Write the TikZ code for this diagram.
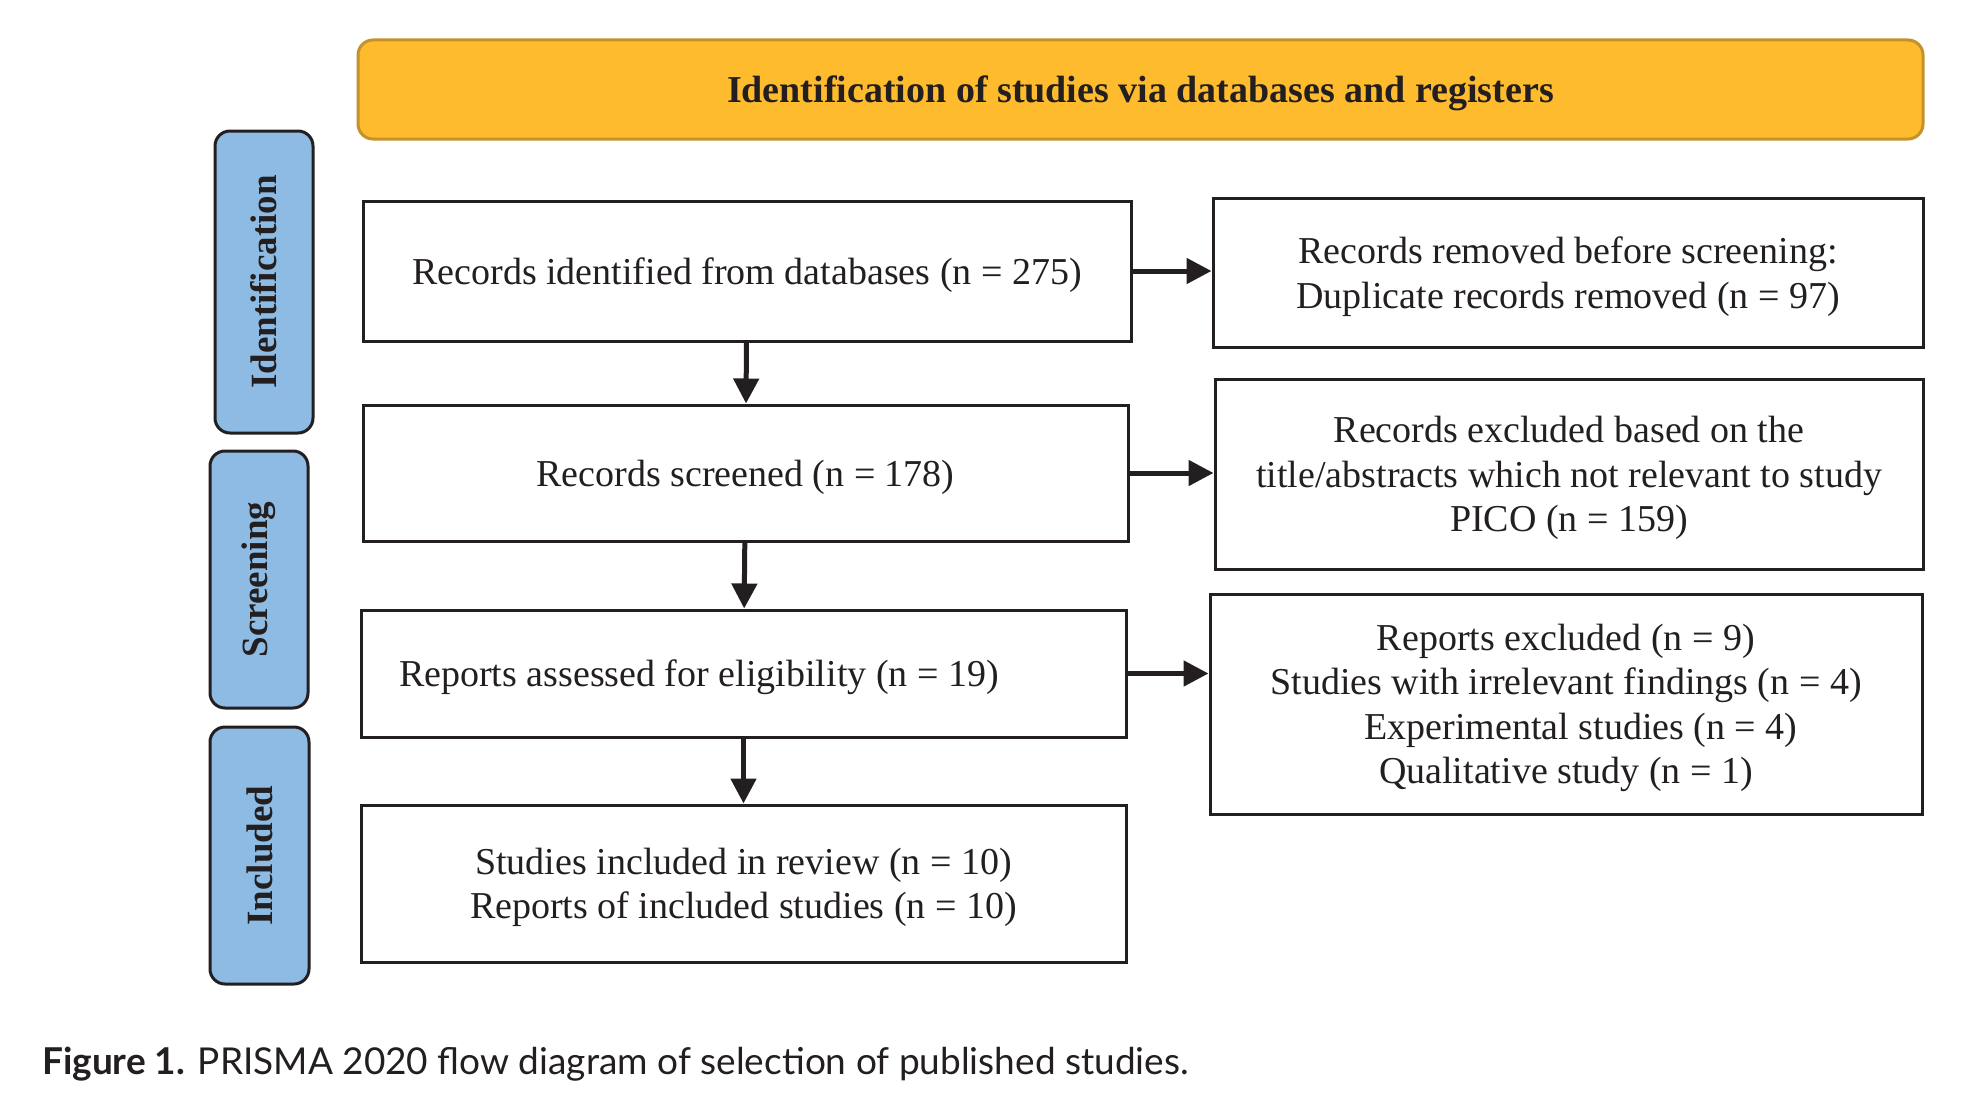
\documentclass[tikz,border=0pt]{standalone}
\usepackage{fontspec}
\setmainfont{Liberation Serif}
\newfontfamily\capfont{Lato}
\usetikzlibrary{arrows.meta}

\definecolor{headfill}{RGB}{253,187,45}
\definecolor{headline}{RGB}{196,146,40}
\definecolor{sidefill}{RGB}{142,187,227}
\definecolor{ink}{RGB}{35,31,32}

\begin{document}
\begin{tikzpicture}[x=1pt,y=-1pt]

        \fill[white] (0,0) rectangle (1979,1116);
        \useasboundingbox (0,0) rectangle (1979,1116);

        % banner on top
        \node (head) at (1140.5,89.5) [draw=headline, fill=headfill, line width=3pt,
          rounded corners=15pt, minimum width=1565pt, minimum height=99pt, text depth=0pt,
          font=\fontsize{38}{45}\selectfont\bfseries, text=ink]
          {Identification of studies via databases and registers};

        % stage labels
        \begin{scope}[every node/.style={draw=ink, fill=sidefill, line width=3pt,
            rounded corners=15pt, minimum width=98pt, rotate=90, text=ink,
            font=\fontsize{37}{44}\selectfont\bfseries}]
          \node (ident)  at (264,282)    [minimum width=302pt, minimum height=98pt] {Identification};
          \node (screen) at (259,579.5)  [minimum width=257pt, minimum height=98pt] {Screening};
          \node (incl)   at (259.5,855.5)[minimum width=257pt, minimum height=99pt] {Included};
        \end{scope}

        \begin{scope}[every node/.style={draw=ink, line width=3pt, align=center, text=ink,
            text depth=0pt, font=\fontsize{38}{44.5}\selectfont}]
          \node (rec)      at (747,271)     [minimum width=768pt, minimum height=140pt] {Records identified from databases (n = 275)};
          \node (screened) at (745.5,473)   [minimum width=765pt, minimum height=136pt] {Records screened (n = 178)};
          \node (assessed) at (743.5,673.5) [text width=689pt, inner xsep=38pt, align=flush left,
                                             minimum height=127pt] {Reports assessed for eligibility (n = 19)};
          \node (included) at (743.5,883.5) [minimum width=765pt, minimum height=157pt]
            {Studies included in review (n = 10)\\Reports of included studies (n = 10)};

          \node (removed)  at (1568,272.5)  [minimum width=710pt, minimum height=149pt]
            {Records removed before screening:\\Duplicate records removed (n = 97)};
          \node (excluded) at (1569,474)    [minimum width=708pt, minimum height=190pt]
            {Records excluded based on the\\title/abstracts which not relevant to study\\PICO (n = 159)};
          \node (reports)  at (1566,704)    [minimum width=712pt, minimum height=220pt]
            {Reports excluded (n = 9)\\Studies with irrelevant findings (n = 4)\\
             \hspace*{30pt}Experimental studies (n = 4)\\Qualitative study (n = 1)};
        \end{scope}

        \begin{scope}[every edge/.style={draw=ink, line width=5pt,
            -{Triangle[length=25pt,width=25pt]}}]
          \path (rec)      edge (screened);
          \path (screened) edge (assessed);
          \path (assessed) edge (included);
          \path (rec)      edge (rec -| removed.west);
          \path (screened) edge (screened -| excluded.west);
          \path (assessed) edge (assessed -| reports.west);
        \end{scope}

        \node (caption) at (42,1064) [anchor=west, inner sep=0pt, text=ink,
          font=\capfont\fontsize{37}{44}\selectfont]
          {\textbf{Figure 1.} PRISMA 2020 flow diagram of selection of published studies.};

      \end{tikzpicture}
\end{document}
